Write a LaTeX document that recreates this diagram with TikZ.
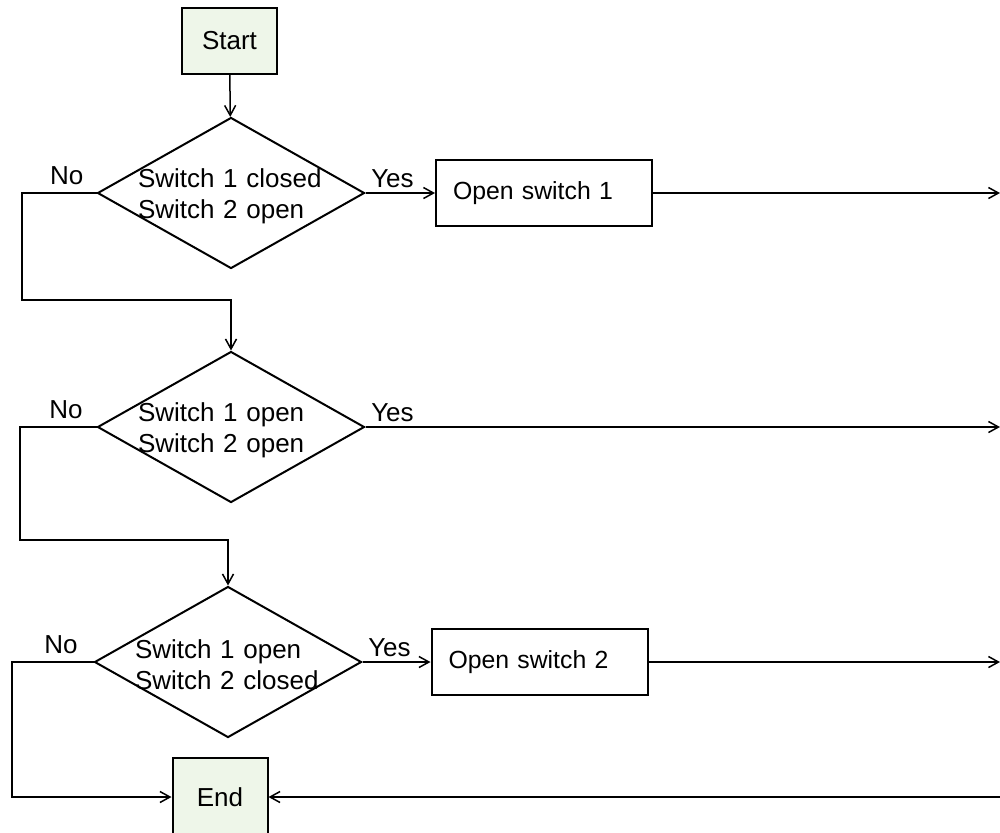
\documentclass[tikz,border=0pt]{standalone}
\usepackage{fontspec}
\setmainfont{Liberation Sans}
\usetikzlibrary{shapes.geometric,arrows.meta,positioning}
\definecolor{termfill}{HTML}{EEF6E9}
\tikzset
{
    terminal/.style = {rectangle, draw=black, line width=1pt, fill=termfill, minimum width=47.5pt, minimum height=33pt, align=center},
    decision/.style = {diamond, draw=black, line width=1pt, inner sep=0pt, minimum width=133.5pt, minimum height=75.5pt},
    condition/.style= {text width=93pt, align=left, yshift=-1.5pt},
    process/.style  = {rectangle, draw=black, line width=1pt, minimum height=33pt, inner xsep=8.5pt, align=left, font=\fontsize{12.4}{15}\selectfont},
    arrow/.style    = {line width=0.75pt, -{Straight Barb[length=5pt,width=5.5pt]}},
    answer/.style   = {inner sep=2.5pt}
}

\begin{document}
\begin{tikzpicture}[x=0.5pt, y=-0.5pt, font=\fontsize{13}{15.5}\selectfont]
\useasboundingbox (0,0) rectangle (1000,832);
\node(start) [terminal] at (229.5, 41) {Start};
\node(d1) [decision, label={[condition]center:{Switch 1 closed\\Switch 2 open}}] at (231, 193) {};
\node(d2) [decision, label={[condition]center:{Switch 1 open\\Switch 2 open}}] at (231, 427) {};
\node(d3) [decision, label={[condition]center:{Switch 1 open\\Switch 2 closed}}] at (228, 662) {};
\node(open1) [process, text width=91pt] at (544, 193) {Open switch 1};
\node(open2) [process, text width=91pt] at (539.5, 662) {Open switch 2};
\node(end) [terminal, minimum height=39pt] at (220, 797) {End};
% loose ends on the right and the bends of the No branches
\coordinate(r1) at (1000, 193);
\coordinate(r2) at (1000, 427);
\coordinate(r3) at (1000, 662);
\coordinate(r4) at (1000, 797);
\coordinate(n1) at (22, 300);
\coordinate(n2) at (20, 540);
\coordinate(n3) at (12, 797);
\draw[arrow] (start) -- (d1);
\draw[arrow] (d1.east) -- node[answer, above right, pos=0] {Yes} (open1.west);
\draw[arrow] (open1.east) -- (r1);
\draw[arrow] (d1.west) -- node[answer, above, pos=0.4, inner sep=4pt] {No} (d1.west -| n1) -- (n1) -| (d2.north);
\draw[arrow] (d2.east) -- node[answer, above right, pos=0] {Yes} (r2);
\draw[arrow] (d2.west) -- node[answer, above, pos=0.4, inner sep=4pt] {No} (d2.west -| n2) -- (n2) -| (d3.north);
\draw[arrow] (d3.east) -- node[answer, above right, pos=0] {Yes} (open2.west);
\draw[arrow] (open2.east) -- (r3);
\draw[arrow] (d3.west) -- node[answer, above, pos=0.4, inner sep=4pt] {No} (d3.west -| n3) -- (n3) -- (end.west);
\draw[arrow] (r4) -- (end.east);
\end{tikzpicture}
\end{document}
